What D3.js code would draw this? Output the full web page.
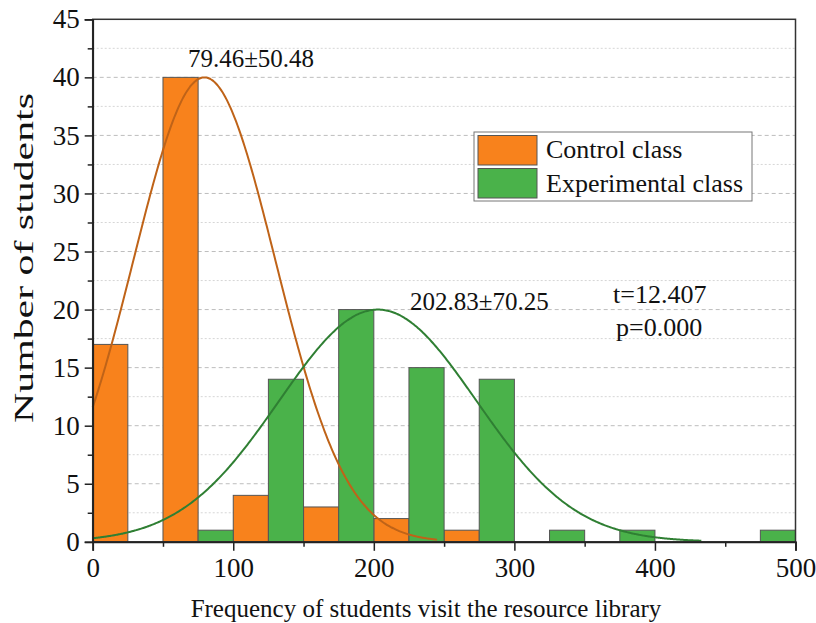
<!DOCTYPE html>
<html>
<head>
<meta charset="utf-8">
<script src="https://cdn.jsdelivr.net/npm/d3@7"></script>
<style>
  html, body { margin: 0; padding: 0; background: #fff; }
  svg { display: block; font-family: "Liberation Serif", "Times New Roman", serif; }
</style>
</head>
<body>
<svg id="chart" width="816" height="623"></svg>
<script>
// Histogram bins (left edge of each 25-wide bar) and counts
const controlBins   = [0, 50, 100, 150, 200, 250];
const controlCounts = [17, 40, 4, 3, 2, 1];
const expBins       = [75, 125, 175, 225, 275, 325, 375, 475];
const expCounts     = [1, 14, 20, 15, 14, 1, 1, 1];
const binWidth = 25;

// Fitted normal curves: mean, sd, peak height, drawn range
const controlFit = { mean: 79.46, sd: 50.48, peak: 40, end: 245 };
const expFit     = { mean: 202.83, sd: 70.25, peak: 20, end: 433 };

const xTicks = [0, 100, 200, 300, 400, 500];
const yTicks = [0, 5, 10, 15, 20, 25, 30, 35, 40, 45];
const legendLabels = ["Control class", "Experimental class"];

const colors = { control: "#F8821C", exp: "#4AB24A", controlLine: "#BF6318", expLine: "#2F7F33" };
const FONT = "Liberation Serif, Times New Roman, serif";

const svg = d3.select("#chart");
const x = d3.scaleLinear().domain([0, 500]).range([92.7, 795.5]);
const y = d3.scaleLinear().domain([0, 45]).range([541.8, 19.3]);

// Grid lines (minor every 2.5, major every 5)
const grid = svg.append("g");
d3.range(2.5, 45, 2.5).forEach(v => {
  const major = v % 5 === 0;
  grid.append("line")
    .attr("x1", x(0)).attr("x2", x(500))
    .attr("y1", y(v)).attr("y2", y(v))
    .attr("stroke", major ? "#bdbdbd" : "#d6d6d6")
    .attr("stroke-width", 1)
    .attr("stroke-dasharray", major ? "4,3" : "2,2");
});

// Bars
function bars(bins, counts, fill) {
  svg.append("g").selectAll("rect").data(bins.map((b, i) => ({ b, c: counts[i] })))
    .join("rect")
    .attr("x", d => x(d.b)).attr("width", d => x(d.b + binWidth) - x(d.b))
    .attr("y", d => y(d.c)).attr("height", d => y(0) - y(d.c))
    .attr("fill", fill).attr("stroke", "#555").attr("stroke-width", 1);
}
bars(controlBins, controlCounts, colors.control);
bars(expBins, expCounts, colors.exp);

// Normal curves from the stated mean and standard deviation
function curve(fit) {
  return d3.range(0, fit.end + 0.5, 1).map(v =>
    [v, fit.peak * Math.exp(-0.5 * Math.pow((v - fit.mean) / fit.sd, 2))]);
}
const line = d3.line().x(d => x(d[0])).y(d => y(d[1])).curve(d3.curveBasis);
svg.append("path").datum(curve(controlFit)).attr("d", line)
  .attr("fill", "none").attr("stroke", colors.controlLine).attr("stroke-width", 2);
svg.append("path").datum(curve(expFit)).attr("d", line)
  .attr("fill", "none").attr("stroke", colors.expLine).attr("stroke-width", 2);

// Frame
svg.append("rect")
  .attr("x", x(0)).attr("y", y(45)).attr("width", x(500) - x(0)).attr("height", y(0) - y(45))
  .attr("fill", "none").attr("stroke", "#333").attr("stroke-width", 1.5);

// Axes
svg.append("g").attr("transform", `translate(0,${y(0)})`)
  .call(d3.axisBottom(x).tickValues(xTicks).tickSize(9).tickPadding(7));
svg.append("g").attr("transform", `translate(0,${y(0)})`)
  .call(d3.axisBottom(x).tickValues([50, 150, 250, 350, 450]).tickSize(5).tickFormat(""))
  .call(g => g.select(".domain").remove());

svg.append("g").attr("transform", `translate(${x(0)},0)`)
  .call(d3.axisLeft(y).tickValues(yTicks).tickSize(8).tickPadding(5));
svg.append("g").attr("transform", `translate(${x(0)},0)`)
  .call(d3.axisLeft(y).tickValues(d3.range(2.5, 45, 5)).tickSize(5).tickFormat(""))
  .call(g => g.select(".domain").remove());

svg.selectAll(".domain").attr("stroke", "#222").attr("stroke-width", 1.8);
svg.selectAll(".tick line").attr("stroke", "#222").attr("stroke-width", 1.5);
svg.selectAll(".tick text").attr("font-family", FONT).attr("font-size", 27).attr("fill", "#111");

// Axis titles
svg.append("text").attr("x", 426).attr("y", 617)
  .attr("text-anchor", "middle").attr("font-size", 25).attr("fill", "#111")
  .text("Frequency of students visit the resource library");
svg.append("text").attr("transform", "translate(33,258) rotate(-90)")
  .attr("text-anchor", "middle").attr("font-size", 27).attr("fill", "#111")
  .attr("textLength", 330).attr("lengthAdjust", "spacingAndGlyphs")
  .text("Number of students");

// Annotations
svg.append("text").attr("x", 251).attr("y", 67).attr("text-anchor", "middle")
  .attr("font-size", 25).attr("fill", "#111").text("79.46±50.48");
svg.append("text").attr("x", 410).attr("y", 310)
  .attr("font-size", 25).attr("fill", "#111").text("202.83±70.25");
svg.append("text").attr("x", 613).attr("y", 303)
  .attr("font-size", 26).attr("fill", "#111").text("t=12.407");
svg.append("text").attr("x", 616).attr("y", 336)
  .attr("font-size", 26).attr("fill", "#111").text("p=0.000");

// Legend
const lg = svg.append("g").attr("transform", "translate(474,132)");
lg.append("rect").attr("width", 278).attr("height", 69)
  .attr("fill", "#fff").attr("stroke", "#777").attr("stroke-width", 1);
[colors.control, colors.exp].forEach((c, i) => {
  lg.append("rect").attr("x", 4).attr("y", 3.5 + i * 33).attr("width", 59).attr("height", 29.5)
    .attr("fill", c).attr("stroke", "#555").attr("stroke-width", 1);
  lg.append("text").attr("x", 72).attr("y", 26 + i * 34)
    .attr("font-size", 26).attr("fill", "#111").text(legendLabels[i]);
});
</script>
</body>
</html>
